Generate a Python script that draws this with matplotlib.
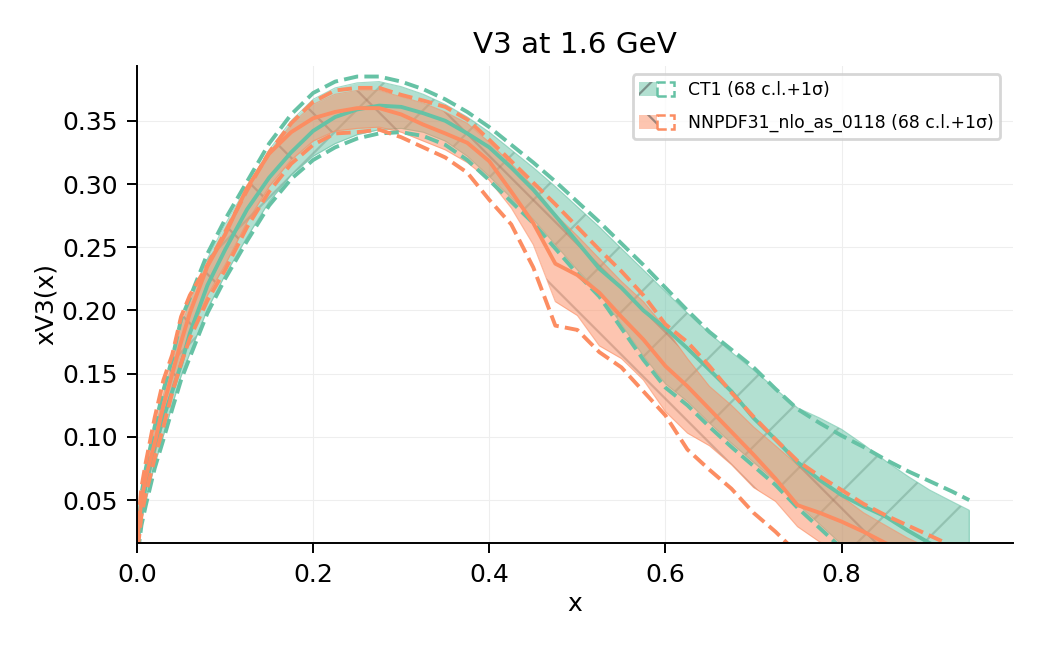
import matplotlib
matplotlib.use('Agg')
import matplotlib.pyplot as plt
import matplotlib.patches as mpatches
from matplotlib.legend_handler import HandlerTuple

plt.rcParams['hatch.linewidth'] = 0.8

# x grid
xgrid = [0.001, 0.005, 0.01, 0.02, 0.03, 0.04, 0.05, 0.06, 0.08, 0.10,
         0.125, 0.15, 0.175, 0.20, 0.225, 0.25, 0.275, 0.30, 0.325, 0.35,
         0.375, 0.40, 0.425, 0.45, 0.475, 0.50, 0.525, 0.55, 0.575, 0.60,
         0.625, 0.65, 0.675, 0.70, 0.725, 0.75, 0.775, 0.80, 0.825, 0.85,
         0.875, 0.90, 0.925, 0.945]

# CT1
ct_cv = [0.018, 0.042, 0.062, 0.092, 0.115, 0.136, 0.157, 0.182, 0.220, 0.248,
         0.280, 0.305, 0.325, 0.342, 0.353, 0.359, 0.362, 0.361, 0.356, 0.350,
         0.340, 0.329, 0.313, 0.2955, 0.275, 0.254, 0.233, 0.218, 0.200, 0.186,
         0.170, 0.153, 0.136, 0.115, 0.098, 0.080, 0.066, 0.054, 0.045, 0.037,
         0.026, 0.016, 0.008, 0.002]
ct_up = [0.025, 0.055, 0.075, 0.108, 0.137, 0.162, 0.193, 0.210, 0.245, 0.272,
         0.302, 0.332, 0.355, 0.372, 0.381, 0.385, 0.385, 0.381, 0.375, 0.367,
         0.357, 0.345, 0.331, 0.317, 0.302, 0.286, 0.270, 0.253, 0.236, 0.218,
         0.200, 0.183, 0.169, 0.155, 0.138, 0.122, 0.111, 0.101, 0.092, 0.082,
         0.073, 0.065, 0.057, 0.050]
ct_dn = [0.008, 0.030, 0.046, 0.075, 0.098, 0.122, 0.145, 0.163, 0.198, 0.225,
         0.255, 0.283, 0.304, 0.319, 0.329, 0.336, 0.340, 0.341, 0.338, 0.331,
         0.319, 0.303, 0.286, 0.269, 0.249, 0.229, 0.211, 0.186, 0.161, 0.139,
         0.125, 0.108, 0.092, 0.077, 0.062, 0.044, 0.028, 0.012, 0.000, -0.010,
         -0.020, -0.030, -0.040, -0.050]
ct68_up = [0.024, 0.053, 0.073, 0.105, 0.133, 0.158, 0.188, 0.206, 0.241, 0.268,
           0.298, 0.327, 0.350, 0.367, 0.376, 0.380, 0.381, 0.377, 0.371, 0.363,
           0.353, 0.341, 0.327, 0.313, 0.298, 0.282, 0.266, 0.249, 0.232, 0.215,
           0.198, 0.182, 0.167, 0.153, 0.138, 0.123, 0.115, 0.106, 0.094, 0.081,
           0.069, 0.058, 0.049, 0.042]
ct68_dn = [0.011, 0.033, 0.049, 0.078, 0.101, 0.125, 0.148, 0.166, 0.201, 0.228,
           0.258, 0.286, 0.307, 0.322, 0.332, 0.339, 0.343, 0.344, 0.341, 0.334,
           0.322, 0.306, 0.289, 0.272, 0.252, 0.232, 0.214, 0.189, 0.164, 0.142,
           0.128, 0.111, 0.095, 0.080, 0.065, 0.047, 0.031, 0.015, 0.003, -0.007,
           -0.017, -0.027, -0.037, -0.047]

# NNPDF31_nlo_as_0118
nn_cv = [0.022, 0.050, 0.068, 0.095, 0.125, 0.150, 0.175, 0.198, 0.235, 0.260,
         0.297, 0.324, 0.341, 0.352, 0.357, 0.360, 0.360, 0.355, 0.347, 0.340,
         0.3326, 0.318, 0.294, 0.269, 0.237, 0.228, 0.214, 0.195, 0.177, 0.156,
         0.140, 0.122, 0.104, 0.086, 0.067, 0.046, 0.040, 0.033, 0.025, 0.016,
         0.008, 0.000, -0.006, -0.010]
nn_up = [0.030, 0.060, 0.080, 0.115, 0.145, 0.165, 0.195, 0.212, 0.236, 0.262,
         0.295, 0.325, 0.348, 0.365, 0.374, 0.376, 0.376, 0.3705, 0.366, 0.361,
         0.351, 0.335, 0.318, 0.301, 0.284, 0.266, 0.248, 0.231, 0.212, 0.189,
         0.175, 0.156, 0.135, 0.116, 0.098, 0.081, 0.069, 0.058, 0.047, 0.038,
         0.030, 0.022, 0.014, 0.008]
nn_dn = [0.012, 0.038, 0.055, 0.083, 0.108, 0.135, 0.158, 0.178, 0.208, 0.232,
         0.266, 0.294, 0.316, 0.331, 0.340, 0.341, 0.343, 0.337, 0.329, 0.321,
         0.309, 0.2875, 0.268, 0.234, 0.188, 0.1846, 0.167, 0.155, 0.136, 0.117,
         0.090, 0.074, 0.059, 0.040, 0.025, 0.008, -0.005, -0.020, -0.030, -0.040,
         -0.050, -0.060, -0.070, -0.080]
nn68_up = [0.028, 0.058, 0.078, 0.110, 0.140, 0.162, 0.190, 0.208, 0.238, 0.262,
           0.296, 0.325, 0.347, 0.363, 0.371, 0.374, 0.374, 0.369, 0.364, 0.357,
           0.348, 0.333, 0.316, 0.298, 0.276, 0.259, 0.241, 0.223, 0.207, 0.186,
           0.162, 0.140, 0.125, 0.108, 0.093, 0.078, 0.066, 0.053, 0.040, 0.030,
           0.020, 0.012, 0.005, 0.000]
nn68_dn = [0.014, 0.040, 0.058, 0.086, 0.112, 0.138, 0.161, 0.181, 0.212, 0.236,
           0.270, 0.298, 0.319, 0.334, 0.342, 0.344, 0.345, 0.341, 0.334, 0.327,
           0.317, 0.303, 0.281, 0.252, 0.207, 0.196, 0.172, 0.162, 0.145, 0.120,
           0.103, 0.093, 0.078, 0.060, 0.049, 0.029, 0.017, 0.008, 0.000, -0.010,
           -0.020, -0.030, -0.040, -0.050]

pdfs = [('CT1', ct_cv, ct_up, ct_dn, ct68_up, ct68_dn),
        ('NNPDF31_nlo_as_0118', nn_cv, nn_up, nn_dn, nn68_up, nn68_dn)]
colors = ['#66c2a5', '#fc8d62']
hatches = ['/', '\\']

fig, ax = plt.subplots(figsize=(5.25, 3.225), dpi=200)
fig.subplots_adjust(left=0.1305, right=0.965, bottom=0.158, top=0.898)

handles = []
labels = []
for (name, cv, up, dn, up68, dn68), color, hatch in zip(pdfs, colors, hatches):
    ax.plot(xgrid, cv, color=color, lw=1.4)
    ax.fill_between(xgrid, up68, dn68, color=color, alpha=0.5, zorder=1, lw=0)
    # hatch on top, drawn in a darker tone of the same colour
    ax.fill_between(xgrid, up68, dn68, facecolor='None', alpha=0.35,
                    edgecolor='#5a8a78' if hatch == '/' else '#9a6a55',
                    hatch=hatch, zorder=1, lw=0)
    ax.fill_between(xgrid, up68, dn68, facecolor='None', alpha=0.6,
                    edgecolor=color, zorder=1, lw=0.4)
    ax.plot(xgrid, up, linestyle='--', color=color, lw=1.4)
    ax.plot(xgrid, dn, linestyle='--', color=color, lw=1.4)
    h = (mpatches.Patch(facecolor=color, alpha=0.5, edgecolor='#444444',
                        hatch=hatch, lw=0),
         mpatches.Patch(facecolor='none', edgecolor=color, ls='--', lw=0.9))
    handles.append(h)
    labels.append(f"{name} (68 c.l.+1σ)")

ax.set_xlim(0, 0.995)
ax.set_ylim(0.016, 0.3935)
ax.set_xticks([0.0, 0.2, 0.4, 0.6, 0.8])
ax.set_yticks([0.05, 0.10, 0.15, 0.20, 0.25, 0.30, 0.35])
ax.grid(True, color='#eeeeee', lw=0.4)
ax.set_axisbelow(True)
ax.spines['top'].set_visible(False)
ax.spines['right'].set_visible(False)
ax.spines['left'].set_linewidth(0.7)
ax.spines['bottom'].set_linewidth(0.7)
ax.tick_params(labelsize=9, width=0.7, length=3.5)
ax.set_xlabel('x', fontsize=9, labelpad=2)
ax.set_ylabel('xV3(x)', fontsize=9, labelpad=1.5)
ax.set_title('V3 at 1.6 GeV', fontsize=10.6, pad=4.5)
ax.legend(handles, labels, loc='upper right', fontsize=6.2,
          bbox_to_anchor=(0.995, 1.0), labelspacing=0.85, handleheight=0.9,
          handler_map={tuple: HandlerTuple(ndivide=None, pad=0)})

fig.savefig('out.png', dpi=200)
